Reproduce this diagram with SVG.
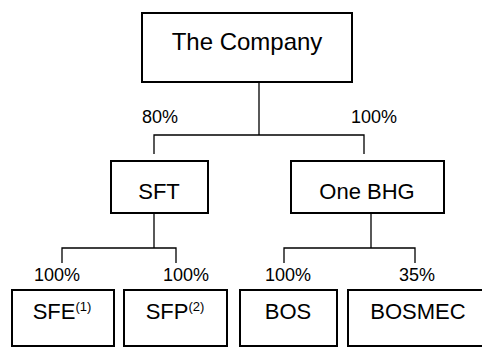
<svg xmlns="http://www.w3.org/2000/svg" width="482" height="348" viewBox="0 0 482 348">
<style>
.box{fill:#fff;stroke:#000;stroke-width:2}
.t{font-family:"Liberation Sans",Arial,sans-serif;fill:#000;text-anchor:middle}
.n{font-size:22px}
.p{font-family:"Liberation Sans",Arial,sans-serif;font-size:18px;fill:#000}
.sup{font-size:13px}
.c{fill:none;stroke:#000;stroke-width:1.3}
</style>
<rect width="482" height="348" fill="#fff"/>
<g id="connectors">
<path class="c" d="M259 82V135M154 154V135H364V154"/>
<path class="c" d="M154 213V248M62 263V248H176V263"/>
<path class="c" d="M371 213V248M284 263V248H415V263"/>
</g>
<g id="labels">
<text class="p" x="142" y="123">80%</text>
<text class="p" x="351" y="123">100%</text>
<text class="p" x="34" y="281">100%</text>
<text class="p" x="163" y="281">100%</text>
<text class="p" x="265" y="281">100%</text>
<text class="p" x="399" y="281">35%</text>
</g>
<g id="company">
<rect class="box" x="142" y="13" width="210" height="69"/>
<text class="t" x="247" y="50" font-size="24">The Company</text>
</g>
<g id="sft">
<rect class="box" x="111" y="161" width="97" height="52"/>
<text class="t n" x="159" y="199">SFT</text>
</g>
<g id="onebhg">
<rect class="box" x="291" y="161" width="153" height="52"/>
<text class="t n" x="367" y="199">One BHG</text>
</g>
<g id="sfe">
<rect class="box" x="12" y="290" width="102" height="56"/>
<text class="t n" x="62" y="319">SFE<tspan class="sup" dy="-8">(1)</tspan></text>
</g>
<g id="sfp">
<rect class="box" x="124" y="290" width="103" height="56"/>
<text class="t n" x="175" y="319">SFP<tspan class="sup" dy="-8">(2)</tspan></text>
</g>
<g id="bos">
<rect class="box" x="240" y="290" width="97" height="56"/>
<text class="t n" x="288" y="319">BOS</text>
</g>
<g id="bosmec">
<rect class="box" x="348" y="290" width="140" height="56"/>
<text class="t n" x="418" y="319">BOSMEC</text>
</g>
</svg>
